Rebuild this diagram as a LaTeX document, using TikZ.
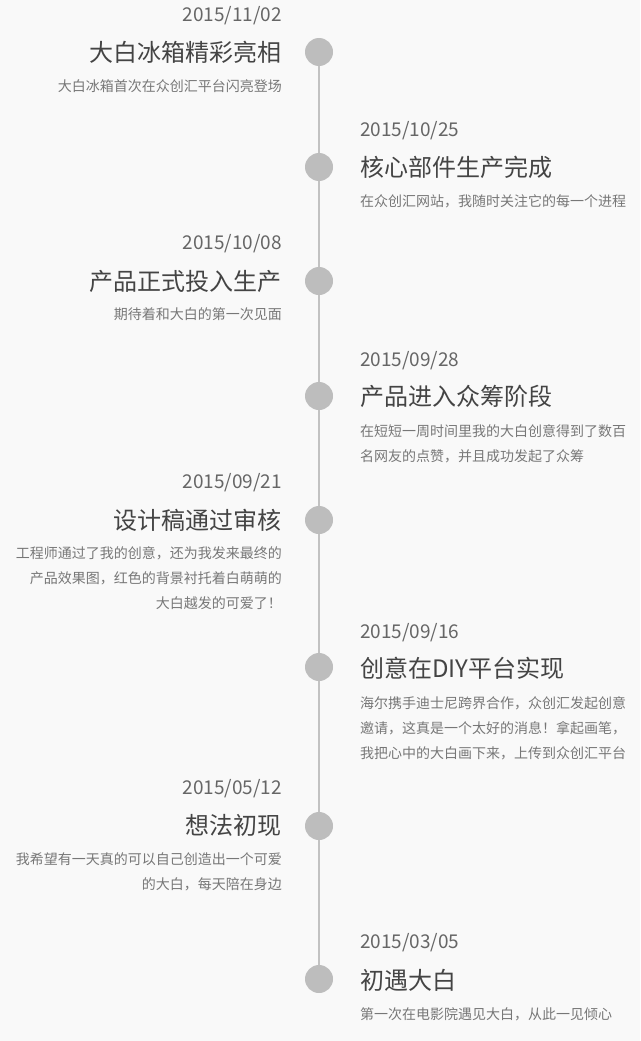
\documentclass[tikz,border=0pt]{standalone}
\usepackage{fontspec}
\setmainfont{Noto Sans CJK SC}
\begin{document}
\begin{tikzpicture}[x=1pt,y=-1pt,
  dot/.style={circle,fill=dotgray,draw=none,minimum size=28pt,inner sep=0pt},
  conn/.style={draw=linegray,line width=2pt},
  datel/.style={anchor=east,inner sep=0pt,text=dategray,font=\fontsize{19}{20}\selectfont},
  dater/.style={anchor=west,inner sep=0pt,text=dategray,font=\fontsize{19}{20}\selectfont},
  titlel/.style={anchor=east,inner sep=0pt,text=titlegray,font=\fontsize{24}{26}\selectfont},
  titler/.style={anchor=west,inner sep=0pt,text=titlegray,font=\fontsize{24}{26}\selectfont},
  descl/.style={anchor=north east,inner sep=0pt,align=right,text=descgray,font=\fontsize{14}{25}\selectfont},
  descr/.style={anchor=north west,inner sep=0pt,align=left,text=descgray,font=\fontsize{14}{25}\selectfont}]
\definecolor{bggray}{HTML}{F9F9F9}
\definecolor{dotgray}{HTML}{BDBDBD}
\definecolor{linegray}{HTML}{C2C2C2}
\definecolor{dategray}{HTML}{666666}
\definecolor{titlegray}{HTML}{444444}
\definecolor{descgray}{HTML}{777777}
\fill[bggray] (0,0) rectangle (640,1041);
\useasboundingbox (0,0) rectangle (640,1041);
% dots
\node[dot] (c1) at (319,52) {};
\node[dot] (c2) at (319,167) {};
\node[dot] (c3) at (319,281) {};
\node[dot] (c4) at (319,396) {};
\node[dot] (c5) at (319,520) {};
\node[dot] (c6) at (319,667) {};
\node[dot] (c7) at (319,826) {};
\node[dot] (c8) at (319,979) {};
\draw[conn] (c1) -- (c2);
\draw[conn] (c2) -- (c3);
\draw[conn] (c3) -- (c4);
\draw[conn] (c4) -- (c5);
\draw[conn] (c5) -- (c6);
\draw[conn] (c6) -- (c7);
\draw[conn] (c7) -- (c8);
% entry 1
\node[datel] (d1) at (282,16) {2015/11/02};
\node[titlel] (t1) at (282,52) {大白冰箱精彩亮相};
\node[descl] (s1) at (282,79.5) {大白冰箱首次在众创汇平台闪亮登场};
% entry 2
\node[dater] (d2) at (360,131) {2015/10/25};
\node[titler] (t2) at (360,167) {核心部件生产完成};
\node[descr] (s2) at (360,194.5) {在众创汇网站，我随时关注它的每一个进程};
% entry 3
\node[datel] (d3) at (282,244) {2015/10/08};
\node[titlel] (t3) at (282,281) {产品正式投入生产};
\node[descl] (s3) at (282,307.5) {期待着和大白的第一次见面};
% entry 4
\node[dater] (d4) at (360,361) {2015/09/28};
\node[titler] (t4) at (360,396) {产品进入众筹阶段};
\node[descr] (s4) at (360,424.5) {在短短一周时间里我的大白创意得到了数百\\名网友的点赞，并且成功发起了众筹};
% entry 5
\node[datel] (d5) at (282,483) {2015/09/21};
\node[titlel] (t5) at (282,520) {设计稿通过审核};
\node[descl] (s5) at (282,546.5) {工程师通过了我的创意，还为我发来最终的\\产品效果图，红色的背景衬托着白萌萌的\\大白越发的可爱了！};
% entry 6
\node[dater] (d6) at (360,633) {2015/09/16};
\node[titler] (t6) at (360,668) {创意在DIY平台实现};
\node[descr] (s6) at (360,696.5) {海尔携手迪士尼跨界合作，众创汇发起创意\\邀请，这真是一个太好的消息！拿起画笔，\\我把心中的大白画下来，上传到众创汇平台};
% entry 7
\node[datel] (d7) at (282,789) {2015/05/12};
\node[titlel] (t7) at (282,825) {想法初现};
\node[descl] (s7) at (282,852.5) {我希望有一天真的可以自己创造出一个可爱\\的大白，每天陪在身边};
% entry 8
\node[dater] (d8) at (360,943) {2015/03/05};
\node[titler] (t8) at (360,980) {初遇大白};
\node[descr] (s8) at (360,1007.5) {第一次在电影院遇见大白，从此一见倾心};
\end{tikzpicture}
\end{document}
